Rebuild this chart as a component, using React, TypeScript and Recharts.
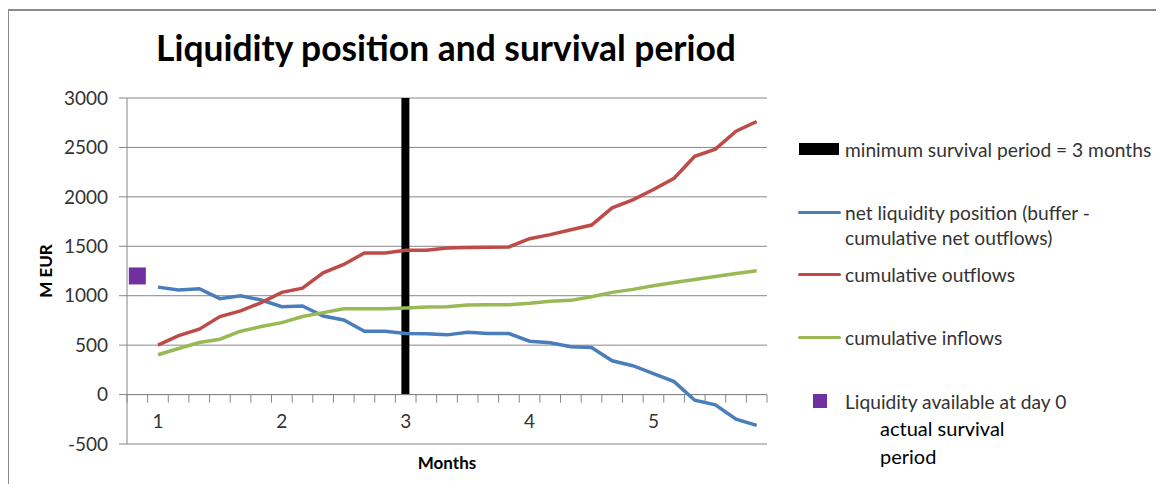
import { Bar, CartesianGrid, ComposedChart, Legend, Line, ReferenceLine, XAxis, YAxis } from "recharts";

// 31 periods on the category axis; month numbers sit under every 6th one
const periodLabels = [
  "", "1", "", "", "", "", "", "2", "", "", "", "", "", "3", "", "",
  "", "", "", "4", "", "", "", "", "", "5", "", "", "", "", "",
];

const netLiquidity = [
  null, 1087, 1057, 1071, 970, 1000, 956, 889, 896, 795, 755, 641, 641, 617, 614, 604,
  631, 617, 617, 540, 524, 483, 477, 342, 292, 211, 131, -57, -104, -248, -312,
];

const cumulativeOutflows = [
  null, 500, 597, 661, 789, 846, 930, 1034, 1077, 1232, 1316, 1433, 1433, 1460, 1460, 1483,
  1487, 1490, 1493, 1577, 1618, 1668, 1715, 1889, 1970, 2074, 2188, 2410, 2483, 2665, 2762,
];

const cumulativeInflows = [
  null, 403, 466, 527, 560, 641, 688, 728, 789, 829, 869, 869, 869, 876, 886, 889,
  906, 909, 909, 923, 943, 953, 990, 1034, 1064, 1101, 1134, 1164, 1195, 1225, 1252,
];

const minSurvivalPeriod = 13; // index of the "3 months" category
const minSurvivalHeight = 3000;
const dayZeroLiquidity = 1200;

const yTicks = [-500, 0, 500, 1000, 1500, 2000, 2500, 3000];

const data = periodLabels.map((label, i) => ({
  p: i,
  label,
  net: netLiquidity[i],
  out: cumulativeOutflows[i],
  inf: cumulativeInflows[i],
  minSurvival: i === minSurvivalPeriod ? minSurvivalHeight : null,
  day0: i === 0 ? dayZeroLiquidity : null,
}));

const FONT = "Lato, 'Open Sans', sans-serif";
const AXIS_GRAY = "#868686";
const TEXT = "#333333";

function MonthTick(props: any) {
  const { x, y, payload } = props;
  const text = periodLabels[payload.value];
  if (!text) return <g />;
  return (
    <text x={x} y={y - 24} textAnchor="middle" dominantBaseline="central" fontSize={19} fill={TEXT} fontFamily={FONT}>
      {text}
    </text>
  );
}

// Excel draws the category axis at y = 0 with tick marks between categories
function ZeroAxis(props: any) {
  const { x1, x2, y1 } = props;
  const step = (x2 - x1) / periodLabels.length;
  const marks = [];
  for (let k = 0; k <= periodLabels.length; k++) {
    const x = x1 + k * step;
    marks.push(<line key={k} x1={x} x2={x} y1={y1} y2={y1 + 8} stroke={AXIS_GRAY} strokeWidth={1} />);
  }
  return (
    <g>
      <line x1={x1} x2={x2} y1={y1} y2={y1} stroke={AXIS_GRAY} strokeWidth={1} />
      {marks}
    </g>
  );
}

function DayZeroDot(props: any) {
  const { cx, cy, index } = props;
  if (cx == null || cy == null || props.value == null) return <g key={index} />;
  return <rect key={index} x={cx - 8.5} y={cy - 8.5} width={17} height={17} fill="#7030A0" />;
}

const legendOrder = ["minSurvival", "net", "out", "inf", "day0"];
const legendRowCenter: Record<string, number> = { minSurvival: 141, net: 204, out: 266, inf: 329, day0: 393 };

function LegendIcon({ type, color }: { type: string; color: string }) {
  if (type === "rect") return <div style={{ position: "absolute", left: 3, top: -6, width: 40, height: 12, background: color }} />;
  if (type === "square") return <div style={{ position: "absolute", left: 17, top: -7, width: 14, height: 14, background: color }} />;
  return <div style={{ position: "absolute", left: 2, top: -1.5, width: 43, height: 3, borderRadius: 2, background: color }} />;
}

function renderLegend(props: any) {
  const items = [...(props.payload || [])].sort(
    (a: any, b: any) => legendOrder.indexOf(a.dataKey) - legendOrder.indexOf(b.dataKey)
  );
  return (
    <div style={{ position: "relative", width: 360, height: 476, fontFamily: FONT, fontSize: 19.2, color: TEXT }}>
      {items.map((item: any) => (
        <div key={item.dataKey} style={{ position: "absolute", left: 0, top: legendRowCenter[item.dataKey] }}>
          <LegendIcon type={item.type} color={item.color} />
          <div style={{ position: "absolute", left: 49, top: -12.5, lineHeight: "25px", whiteSpace: "pre" }}>{item.value}</div>
        </div>
      ))}
      <div style={{ position: "absolute", left: 84, top: 406, lineHeight: "28px", fontSize: 20, color: "#000", whiteSpace: "pre" }}>
        {"actual survival\nperiod"}
      </div>
    </div>
  );
}

export default function App() {
  return (
    <div style={{ position: "relative", width: 1148, height: 476, overflow: "hidden", fontFamily: FONT }}>
      <div style={{ position: "absolute", left: -1, top: 1, width: 1300, height: 700, borderLeft: "2px solid #8a8a8a", borderTop: "2px solid #8a8a8a" }} />
      <div style={{ position: "absolute", left: 0, top: 19, width: 876, textAlign: "center", fontSize: 35.4, fontWeight: 700, color: "#000", lineHeight: "42px" }}>
        Liquidity position and survival period
      </div>
      <div style={{ position: "absolute", left: 0, top: 0 }}>
        <ComposedChart width={1148} height={476} data={data} margin={{ top: 90, right: 389, bottom: 0, left: 14 }}>
          <CartesianGrid vertical={false} stroke={AXIS_GRAY} strokeWidth={1} />
          <XAxis
            dataKey="p"
            type="category"
            interval={0}
            tickLine={false}
            axisLine={false}
            tickSize={0}
            tickMargin={0}
            height={40}
            tick={<MonthTick />}
            label={{ value: "Months", position: "insideBottom", offset: 15, fontSize: 17, fontWeight: 700, fill: "#000", fontFamily: FONT }}
          />
          <YAxis
            type="number"
            domain={[-500, 3000]}
            ticks={yTicks}
            interval={0}
            width={105}
            axisLine={{ stroke: AXIS_GRAY }}
            tickLine={{ stroke: AXIS_GRAY }}
            tickSize={8}
            tickMargin={11}
            tick={{ fontSize: 19, fill: TEXT, fontFamily: FONT }}
            label={{ value: "M EUR", angle: -90, position: "insideLeft", offset: 24, fontSize: 17, fontWeight: 700, fill: "#000", fontFamily: FONT, style: { textAnchor: "middle" } }}
          />
          <ReferenceLine y={0} stroke={AXIS_GRAY} shape={ZeroAxis} />
          <Bar dataKey="minSurvival" name="minimum survival period = 3 months" fill="#000000" barSize={8} legendType="rect" isAnimationActive={false} />
          <Line dataKey="net" name={"net liquidity position (buffer -\ncumulative net outflows)"} stroke="#4A7EBB" strokeWidth={3.5} dot={false} legendType="line" isAnimationActive={false} />
          <Line dataKey="out" name="cumulative outflows" stroke="#BE4B48" strokeWidth={3.5} dot={false} legendType="line" isAnimationActive={false} />
          <Line dataKey="inf" name="cumulative inflows" stroke="#98B954" strokeWidth={3.5} dot={false} legendType="line" isAnimationActive={false} />
          <Line dataKey="day0" name="Liquidity available at day 0" stroke="#7030A0" strokeWidth={0} dot={DayZeroDot} legendType="square" isAnimationActive={false} />
          <Legend
            layout="horizontal"
            align="center"
            verticalAlign="middle"
            wrapperStyle={{ left: 788, top: 0, width: 360, height: 476 }}
            content={renderLegend}
          />
        </ComposedChart>
      </div>
    </div>
  );
}
